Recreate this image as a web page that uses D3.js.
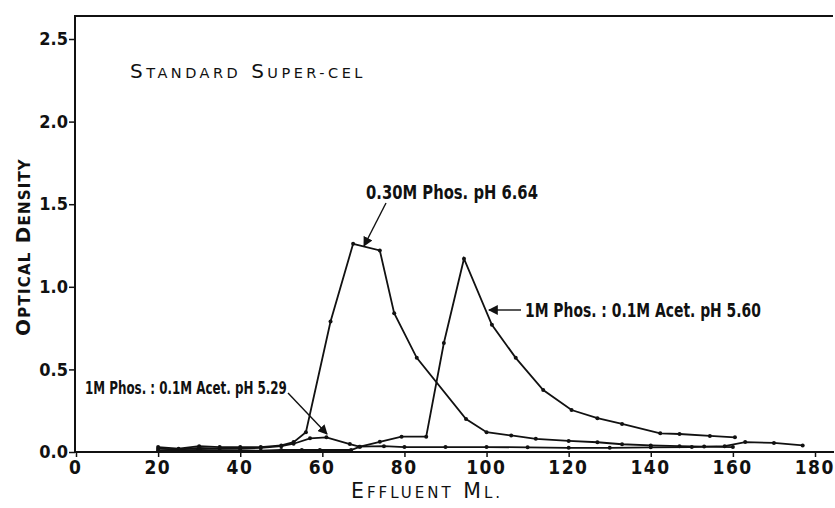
<!DOCTYPE html>
<html>
<head>
<meta charset="utf-8">
<script src="https://cdn.jsdelivr.net/npm/d3@7"></script>
<style>
  body { margin: 0; background: #fff; }
  svg { display: block; }
  text { fill: #111; }
</style>
</head>
<body>
<div id="chart"></div>
<script>
// effluent ml and optical density
var phos030X = [20, 25, 30, 35, 40, 45, 50, 53, 56, 62, 67.5, 74, 77.5, 83, 95, 100, 106, 112, 120, 127, 133, 140, 147, 153, 160];
var phos030Y = [0.03, 0.02, 0.035, 0.03, 0.03, 0.03, 0.04, 0.06, 0.12, 0.79, 1.26, 1.22, 0.84, 0.57, 0.20, 0.12, 0.10, 0.08, 0.067, 0.059, 0.047, 0.04, 0.035, 0.033, 0.03];

var ph529X = [20, 25, 30, 35, 40, 45, 50, 53, 57, 61, 66.7, 69, 75, 80, 90, 100, 110, 120, 130, 140, 150, 158, 163, 170, 177];
var ph529Y = [0.02, 0.015, 0.025, 0.02, 0.02, 0.025, 0.035, 0.05, 0.083, 0.089, 0.048, 0.032, 0.035, 0.03, 0.03, 0.03, 0.028, 0.025, 0.025, 0.028, 0.03, 0.035, 0.06, 0.055, 0.04];

var ph560X = [20, 30, 40, 45, 50, 55, 59.4, 67, 69.2, 74, 79.3, 85.3, 89.6, 94.5, 101.3, 107.1, 113.8, 120.7, 127, 133, 142.3, 147, 154.4, 160.5];
var ph560Y = [0.01, 0.012, 0.01, 0.008, 0.012, 0.012, 0.012, 0.012, 0.032, 0.062, 0.093, 0.093, 0.66, 1.17, 0.77, 0.57, 0.375, 0.254, 0.205, 0.17, 0.113, 0.109, 0.097, 0.089];

var xTicks = [0, 20, 40, 60, 80, 100, 120, 140, 160, 180];
var yTicks = [0, 0.5, 1.0, 1.5, 2.0, 2.5];

var width = 835, height = 508;
var font = '"DejaVu Sans", sans-serif';
var narrow = '"DejaVu Sans Condensed", "DejaVu Sans", sans-serif';

var svg = d3.select('#chart').append('svg')
    .attr('width', width)
    .attr('height', height);

var x = d3.scaleLinear().domain([0, 180]).range([76, 815]);
var y = d3.scaleLinear().domain([0, 2.5]).range([452, 39]);

// frame
svg.append('path')
    .attr('d', 'M833,16 L75,16 L75,452 L834,452')
    .attr('fill', 'none')
    .attr('stroke', '#111')
    .attr('stroke-width', 2);

var xAxis = svg.append('g')
    .attr('transform', 'translate(0,452)')
    .call(d3.axisBottom(x).tickValues(xTicks).tickSize(5).tickSizeOuter(0)
        .tickFormat(function(d) { return d; }));
xAxis.select('.domain').remove();
xAxis.selectAll('line').attr('stroke', '#111').attr('stroke-width', 1.5);
xAxis.selectAll('text')
    .attr('y', 9)
    .attr('dx', -0.75)
    .attr('font-family', narrow)
    .attr('font-size', 19)
    .attr('font-weight', 'bold')
    .attr('letter-spacing', 1.5)
    .attr('fill', '#111');

var yAxis = svg.append('g')
    .attr('transform', 'translate(75,0)')
    .call(d3.axisLeft(y).tickValues(yTicks).tickSize(6).tickSizeOuter(0)
        .tickFormat(d3.format('.1f')));
yAxis.select('.domain').remove();
yAxis.selectAll('line').attr('stroke', '#111').attr('stroke-width', 1.5);
yAxis.selectAll('text')
    .attr('x', -7)
    .attr('font-family', narrow)
    .attr('font-size', 18)
    .attr('font-weight', 'bold')
    .attr('fill', '#111');

// series
var line = d3.line()
    .x(function(d) { return x(d[0]); })
    .y(function(d) { return y(d[1]); });

[[phos030X, phos030Y], [ph529X, ph529Y], [ph560X, ph560Y]].forEach(function(s) {
    var pts = d3.zip(s[0], s[1]);
    svg.append('path')
        .datum(pts)
        .attr('d', line)
        .attr('fill', 'none')
        .attr('stroke', '#111')
        .attr('stroke-width', 1.8);
    svg.append('g').selectAll('circle')
        .data(pts)
        .enter().append('circle')
        .attr('cx', function(d) { return x(d[0]); })
        .attr('cy', function(d) { return y(d[1]); })
        .attr('r', 2)
        .attr('fill', '#111');
});

// small-caps style titles
function smallCaps(g, words, big, small) {
    words.forEach(function(w, i) {
        g.append('tspan').attr('font-size', big).text((i ? ' ' : '') + w[0]);
        g.append('tspan').attr('font-size', small).text(w.slice(1));
    });
}

var title = svg.append('text')
    .attr('x', 130).attr('y', 78)
    .attr('font-family', font)
    .attr('letter-spacing', 3.5);
smallCaps(title, ['STANDARD', 'SUPER-CEL'], 20, 14.5);

var xLab = svg.append('text')
    .attr('x', 427).attr('y', 498)
    .attr('text-anchor', 'middle')
    .attr('font-family', font)
    .attr('letter-spacing', 3);
smallCaps(xLab, ['EFFLUENT', 'ML.'], 20.5, 15);

var yLab = svg.append('text')
    .attr('transform', 'translate(30,247) rotate(-90)')
    .attr('text-anchor', 'middle')
    .attr('font-family', font)
    .attr('font-weight', 'bold')
    .attr('letter-spacing', 1.2);
smallCaps(yLab, ['OPTICAL', 'DENSITY'], 20, 15);

// annotations
svg.append('defs').append('marker')
    .attr('id', 'arr')
    .attr('viewBox', '0 0 10 10')
    .attr('refX', 9).attr('refY', 5)
    .attr('markerWidth', 7).attr('markerHeight', 7)
    .attr('orient', 'auto')
    .append('path')
    .attr('d', 'M0,0 L10,5 L0,10 Z')
    .attr('fill', '#111');

var notes = [
    {text: '0.30M Phos. pH 6.64', x: 366, y: 199, size: 20, len: 172, from: [386, 203], to: [364, 246]},
    {text: '1M Phos. : 0.1M Acet. pH 5.60', x: 525, y: 317, size: 20, len: 236, from: [521, 310], to: [489, 310]},
    {text: '1M Phos. : 0.1M Acet. pH 5.29', x: 85, y: 394, size: 17, len: 202, from: [288, 393], to: [327, 434]}
];
notes.forEach(function(n) {
    var t = svg.append('text')
        .attr('font-family', narrow)
        .attr('font-weight', 'bold')
        .attr('font-size', n.size)
        .text(n.text);
    // squeeze the lettering sideways to the width it has in the figure
    var sx = n.len / t.node().getComputedTextLength();
    t.attr('transform', 'translate(' + n.x + ',' + n.y + ') scale(' + sx + ',1)');
    svg.append('line')
        .attr('x1', n.from[0]).attr('y1', n.from[1])
        .attr('x2', n.to[0]).attr('y2', n.to[1])
        .attr('stroke', '#111')
        .attr('stroke-width', 1.4)
        .attr('marker-end', 'url(#arr)');
});
</script>
</body>
</html>
